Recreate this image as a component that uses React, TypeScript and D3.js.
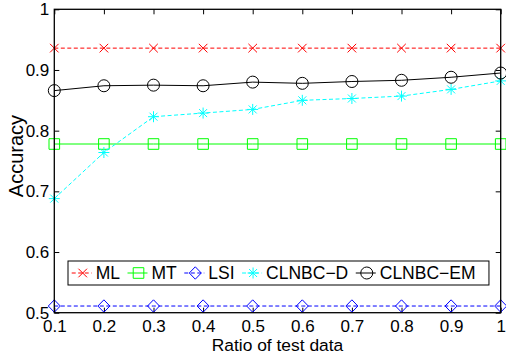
import * as d3 from "d3";
import React, { useEffect, useRef } from "react";

// test data ratios
const ratios = [0.1, 0.2, 0.3, 0.4, 0.5, 0.6, 0.7, 0.8, 0.9, 1.0];

const mlAcc = [0.936, 0.936, 0.936, 0.936, 0.936, 0.936, 0.936, 0.936, 0.936, 0.936];
const mtAcc = [0.778, 0.778, 0.778, 0.778, 0.778, 0.778, 0.778, 0.778, 0.778, 0.778];
const lsiAcc = [0.511, 0.511, 0.511, 0.511, 0.511, 0.511, 0.511, 0.511, 0.511, 0.511];
const clnbcDAcc = [0.688, 0.764, 0.823, 0.829, 0.835, 0.85, 0.853, 0.857, 0.868, 0.882];
const clnbcEmAcc = [0.866, 0.874, 0.875, 0.874, 0.88, 0.878, 0.881, 0.883, 0.888, 0.895];

const xTicks = [0.1, 0.2, 0.3, 0.4, 0.5, 0.6, 0.7, 0.8, 0.9, 1];
const yTicks = [0.5, 0.6, 0.7, 0.8, 0.9, 1];

type Marker = "x" | "square" | "diamond" | "star" | "circle";

const series: { name: string; values: number[]; color: string; dash: string | null; marker: Marker }[] = [
  { name: "ML", values: mlAcc, color: "#ff0000", dash: "4,2.5", marker: "x" },
  { name: "MT", values: mtAcc, color: "#00ff00", dash: null, marker: "square" },
  { name: "LSI", values: lsiAcc, color: "#0000ff", dash: "4,2.5", marker: "diamond" },
  { name: "CLNBC\u2212D", values: clnbcDAcc, color: "#00ffff", dash: "4,2.5", marker: "star" },
  { name: "CLNBC\u2212EM", values: clnbcEmAcc, color: "#000000", dash: null, marker: "circle" },
];

const markerPath = (m: Marker) => {
  switch (m) {
    case "x":
      return "M-4.3,-4.3L4.3,4.3M-4.3,4.3L4.3,-4.3";
    case "square":
      return "M-5.3,-5.3H5.3V5.3H-5.3Z";
    case "diamond":
      return "M0,-6.2L6,0L0,6.2L-6,0Z";
    case "star":
      return "M-5.5,0H5.5M0,-5.5V5.5M-4,-4L4,4M-4,4L4,-4";
    case "circle":
      return "M6,0A6,6 0 1,1 -6,0A6,6 0 1,1 6,0Z";
  }
};

const FONT = "'Liberation Sans', Arial, Helvetica, sans-serif";

export default function App() {
  const ref = useRef<SVGSVGElement | null>(null);

  useEffect(() => {
    const svg = d3.select(ref.current);
    svg.selectAll("*").remove();

    const width = 506;
    const height = 358;
    const margin = { top: 9.3, right: 5.3, bottom: 45.3, left: 54.3 };
    const iw = width - margin.left - margin.right;
    const ih = height - margin.top - margin.bottom;

    const x = d3.scaleLinear().domain([0.1, 1]).range([0, iw]);
    const y = d3.scaleLinear().domain([0.5, 1]).range([ih, 0]);

    const g = svg.append("g").attr("transform", `translate(${margin.left},${margin.top})`);

    // axes (ticks inside, box all round)
    const styleAxis = (sel: any) => {
      sel.select(".domain").remove();
      sel.selectAll("line").attr("stroke", "#000").attr("stroke-width", 1);
      sel.selectAll("text").attr("font-family", FONT).attr("font-size", 17).attr("fill", "#000");
    };

    g.append("g")
      .attr("transform", `translate(0,${ih})`)
      .call(d3.axisBottom(x).tickValues(xTicks).tickSizeInner(-5).tickSizeOuter(0).tickPadding(7).tickFormat(d3.format("")))
      .call(styleAxis);
    g.append("g")
      .call(d3.axisTop(x).tickValues(xTicks).tickSizeInner(-5).tickSizeOuter(0).tickFormat(() => ""))
      .call(styleAxis);
    g.append("g")
      .call(d3.axisLeft(y).tickValues(yTicks).tickSizeInner(-5).tickSizeOuter(0).tickPadding(5).tickFormat(d3.format("")))
      .call(styleAxis);
    g.append("g")
      .attr("transform", `translate(${iw},0)`)
      .call(d3.axisRight(y).tickValues(yTicks).tickSizeInner(-5).tickSizeOuter(0).tickFormat(() => ""))
      .call(styleAxis);

    const line = d3
      .line<number>()
      .x((_, i) => x(ratios[i]))
      .y((d) => y(d));

    series.forEach((s) => {
      g.append("path")
        .datum(s.values)
        .attr("d", line)
        .attr("fill", "none")
        .attr("stroke", s.color)
        .attr("stroke-width", 1)
        .attr("stroke-dasharray", s.dash);
      g.selectAll(null)
        .data(s.values)
        .enter()
        .append("path")
        .attr("transform", (d, i) => `translate(${x(ratios[i])},${y(d)})`)
        .attr("d", markerPath(s.marker))
        .attr("fill", "none")
        .attr("stroke", s.color)
        .attr("stroke-width", 1);
    });

    g.append("rect")
      .attr("width", iw)
      .attr("height", ih)
      .attr("fill", "none")
      .attr("stroke", "#000")
      .attr("stroke-width", 1.3);

    // legend
    const lg = svg.append("g").attr("transform", "translate(68,261)");
    const box = lg.append("rect").attr("height", 24).attr("fill", "#fff").attr("stroke", "#000").attr("stroke-width", 1);
    let cx = 27.7;
    let last = 0;
    series.forEach((s) => {
      const it = lg.append("g");
      it.append("line")
        .attr("x1", cx - 24)
        .attr("x2", cx - 4)
        .attr("y1", 12)
        .attr("y2", 12)
        .attr("stroke", s.color)
        .attr("stroke-dasharray", s.dash);
      it.append("path")
        .attr("transform", `translate(${cx - 13},12)`)
        .attr("d", markerPath(s.marker))
        .attr("fill", "none")
        .attr("stroke", s.color);
      const t = it.append("text")
        .attr("x", cx)
        .attr("y", 18.3)
        .attr("font-family", FONT)
        .attr("font-size", 17.5)
        .text(s.name);
      const w = (t.node() as SVGTextElement).getComputedTextLength();
      last = cx + w;
      cx += w + 31.5;
    });
    box.attr("width", last + 13.4);

    // axis titles
    svg.append("text")
      .attr("x", margin.left + iw / 2)
      .attr("y", 350.7)
      .attr("text-anchor", "middle")
      .attr("font-family", FONT)
      .attr("font-size", 17.4)
      .text("Ratio of test data");
    svg.append("text")
      .attr("transform", `translate(22.6,156) rotate(-90)`)
      .attr("text-anchor", "middle")
      .attr("font-family", FONT)
      .attr("font-size", 20)
      .text("Accuracy");
  }, []);

  return <svg ref={ref} width={506} height={358} style={{ position: "absolute", left: 0, top: 0 }} />;
}
